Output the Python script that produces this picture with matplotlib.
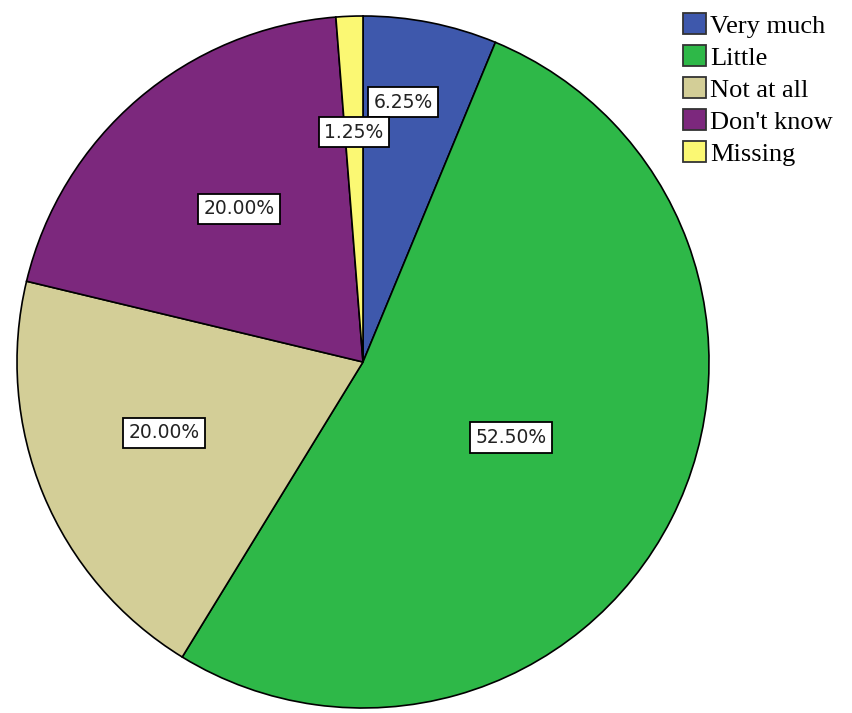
import numpy as np
import matplotlib
matplotlib.use("Agg")
import matplotlib.pyplot as plt

categories = ["Very much", "Little", "Not at all", "Don't know", "Missing"]
shares = [6.25, 52.50, 20.00, 20.00, 1.25]
pct_labels = ["6.25%", "52.50%", "20.00%", "20.00%", "1.25%"]
colors = ["#3E58AC", "#2EB848", "#D3CE97", "#7C287D", "#FBF873"]
# label placement: fraction of radius, fraction along the wedge arc
label_dist = [0.76, 0.48, 0.61, 0.57, 0.665]
label_frac = [0.39, 0.5, 0.54, 0.52, 0.5]

fig = plt.figure(figsize=(8.53, 7.13), dpi=100)
ax = fig.add_axes([17 / 853, 5 / 713, 692 / 853, 692 / 713])

wedges, _ = ax.pie(
    shares,
    colors=colors,
    startangle=90,
    counterclock=False,
    radius=1.0,
    wedgeprops=dict(edgecolor="black", linewidth=1.2),
)

# percent labels in white boxes
for w, txt, d, f in zip(wedges, pct_labels, label_dist, label_frac):
    # clockwise wedges: theta2 is the start side
    ang = np.deg2rad(w.theta2 - f * (w.theta2 - w.theta1))
    ax.text(
        d * np.cos(ang), d * np.sin(ang), txt,
        ha="center", va="center", fontsize=13.5, family="DejaVu Sans",
        color="#222222",
        bbox=dict(boxstyle="square,pad=0.3", facecolor="white",
                  edgecolor="black", linewidth=1.3),
    )

ax.set_xlim(-1, 1)
ax.set_ylim(-1, 1)
ax.set_aspect("equal")
ax.axis("off")

leg = fig.legend(
    wedges, categories,
    loc="upper left", bbox_to_anchor=(683 / 853, 1 - 13 / 713),
    frameon=False,
    prop={"family": "Liberation Serif", "size": 19},
    handlelength=0.87, handleheight=0.87,
    handletextpad=0.15, labelspacing=0.27, borderpad=0, borderaxespad=0,
)
for h in leg.legend_handles:
    h.set_edgecolor("#333333")
    h.set_linewidth(1.3)

fig.savefig("out.png", dpi=100)
